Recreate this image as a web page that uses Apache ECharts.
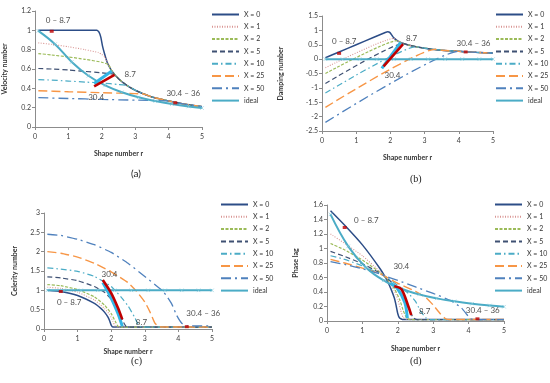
<!DOCTYPE html>
<html><head><meta charset="utf-8">
<script src="https://cdn.jsdelivr.net/npm/echarts/dist/echarts.min.js"></script>
<style>html,body{margin:0;padding:0;background:#fff}#c{width:550px;height:383px}</style>
</head><body><div id="c"></div><script>
// ---------- DATA (shape number r, value) ----------
const seriesNames = ['X = 0','X = 1','X = 2','X = 5','X = 10','X = 25','X = 50','ideal'];

// (a) Velocity number
const velX0  = [[0.1,1],[0.5,1],[1,1],[1.5,1],[1.85,1],[1.92,0.98],[1.97,0.93],[2.02,0.84],[2.08,0.76],[2.15,0.68],[2.2,0.64],[2.3,0.58],[2.5,0.5],[2.75,0.43],[3,0.38],[3.5,0.31],[4,0.27],[4.5,0.235],[5,0.21]];
const velX1  = [[0.1,0.87],[0.5,0.855],[1,0.83],[1.5,0.8],[1.9,0.77],[2,0.75],[2.1,0.72],[2.2,0.645],[2.3,0.58],[2.5,0.5],[2.75,0.43],[3,0.38],[3.5,0.31],[4,0.27],[4.5,0.235],[5,0.21]];
const velX2  = [[0.1,0.76],[0.5,0.745],[1,0.725],[1.5,0.7],[2,0.67],[2.2,0.645],[2.3,0.58],[2.5,0.5],[2.75,0.43],[3,0.38],[3.5,0.31],[4,0.27],[4.5,0.235],[5,0.21]];
const velX5  = [[0.1,0.605],[0.5,0.6],[1,0.59],[1.5,0.575],[2,0.56],[2.3,0.55],[2.38,0.545],[2.5,0.5],[2.75,0.43],[3,0.38],[3.5,0.31],[4,0.27],[4.5,0.235],[5,0.21]];
const velX10 = [[0.1,0.49],[0.5,0.485],[1,0.475],[1.5,0.465],[2,0.455],[2.5,0.44],[2.75,0.43],[3,0.38],[3.5,0.31],[4,0.27],[4.5,0.235],[5,0.21]];
const velX25 = [[0.1,0.375],[1,0.365],[2,0.355],[3,0.345],[3.3,0.338],[3.5,0.31],[4,0.27],[4.5,0.235],[5,0.21]];
const velX50 = [[0.1,0.303],[1,0.295],[2,0.285],[3,0.278],[4,0.27],[4.5,0.235],[5,0.21]];
const velIdeal = [[0.1,0.995],[0.6,0.857],[1.1,0.673],[1.6,0.53],[2.1,0.43],[2.6,0.359],[3.1,0.307],[3.6,0.268],[4.1,0.237],[4.6,0.212],[5,0.196]];
const velRed  = [[1.77,0.42],[2.38,0.54]];
const velCyan = [[1.77,0.45],[2.3,0.58]];
const velDots = [[0.5,0.99],[4.2,0.25]];

// (b) Damping number
const dampX0  = [[0.1,0.05],[0.5,0.25],[1,0.5],[1.5,0.75],[1.85,0.925],[1.92,0.95],[1.98,0.93],[2.05,0.82],[2.1,0.74],[2.2,0.645],[2.3,0.58],[2.5,0.5],[2.75,0.43],[3,0.38],[3.5,0.31],[4,0.27],[4.5,0.235],[5,0.21]];
const dampX1  = [[0.1,-0.3],[2.1,0.72],[2.2,0.645],[2.3,0.58],[2.5,0.5],[2.75,0.43],[3,0.38],[3.5,0.31],[4,0.27],[4.5,0.235],[5,0.21]];
const dampX2  = [[0.1,-0.5],[2.2,0.645],[2.3,0.58],[2.5,0.5],[2.75,0.43],[3,0.38],[3.5,0.31],[4,0.27],[4.5,0.235],[5,0.21]];
const dampX5  = [[0.1,-0.85],[2.38,0.545],[2.5,0.5],[2.75,0.43],[3,0.38],[3.5,0.31],[4,0.27],[4.5,0.235],[5,0.21]];
const dampX10 = [[0.1,-1.18],[2.75,0.43],[3,0.38],[3.5,0.31],[4,0.27],[4.5,0.235],[5,0.21]];
const dampX25 = [[0.1,-1.68],[3.3,0.338],[3.5,0.31],[4,0.27],[4.5,0.235],[5,0.21]];
const dampX50 = [[0.1,-2.2],[4,0.27],[4.5,0.235],[5,0.21]];
const dampIdeal = [[0.1,0],[0.6,0],[1.1,0],[1.6,0],[2.1,0],[2.6,0],[3.1,0],[3.6,0],[4.1,0],[4.6,0],[5,0]];
const dampRed  = [[1.8,-0.25],[2.37,0.52]];
const dampCyan = [[1.75,-0.32],[2.3,0.58]];
const dampDots = [[0.5,0.2],[4.2,0.25]];

// (c) Celerity number
const celX0  = [[0.1,1],[0.5,0.968],[1,0.866],[1.5,0.661],[1.7,0.527],[1.8,0.436],[1.9,0.312],[1.95,0.222],[2,0.1],[2.05,0.05],[3,0.05],[4,0.05],[5,0.05]];
const celX1  = [[0.1,1.08],[0.5,1.05],[1,0.95],[1.5,0.75],[1.8,0.53],[1.95,0.38],[2.05,0.2],[2.12,0.07],[2.2,0.05],[5,0.05]];
const celX2  = [[0.1,1.15],[0.5,1.12],[1,1.02],[1.5,0.83],[1.8,0.62],[2,0.4],[2.12,0.2],[2.2,0.07],[2.3,0.05],[5,0.05]];
const celX5  = [[0.1,1.35],[0.5,1.32],[1,1.25],[1.5,1.1],[1.8,0.95],[2,0.77],[2.2,0.5],[2.35,0.2],[2.45,0.06],[2.55,0.05],[5,0.05]];
const celX10 = [[0.1,1.58],[0.5,1.55],[1,1.49],[1.5,1.36],[2,1.1],[2.3,0.82],[2.5,0.6],[2.7,0.3],[2.8,0.12],[2.9,0.05],[5,0.05]];
const celX25 = [[0.1,2],[0.5,1.96],[1,1.86],[1.5,1.7],[2,1.48],[2.5,1.2],[2.75,0.98],[3,0.7],[3.15,0.45],[3.3,0.15],[3.4,0.07],[3.5,0.05],[5,0.05]];
const celX50 = [[0.1,2.45],[0.5,2.42],[1,2.32],[1.5,2.18],[2,1.98],[2.5,1.7],[3,1.36],[3.3,1.15],[3.55,0.97],[3.8,0.65],[3.95,0.35],[4.1,0.15],[4.25,0.08],[5,0.08]];
const celIdeal = [[0.1,1],[0.6,1],[1.1,1],[1.6,1],[2.1,1],[2.6,1],[3.1,1],[3.6,1],[4.1,1],[4.6,1],[5,1]];
const celRed  = [[1.75,1.27],[2,0.93],[2.2,0.55],[2.33,0.25]];
const celCyan = [[1.75,1.2],[2,0.8],[2.2,0.4],[2.33,0.07]];
const celDots = [[0.5,0.97],[4.25,0.06]];

// (d) Phase lag
const phX0  = [[0.1,1.52],[0.5,1.32],[1,1.05],[1.5,0.72],[1.7,0.555],[1.8,0.45],[1.9,0.32],[1.95,0.22],[2,0.1],[2.05,0.04],[2.15,0.02],[5,0.02]];
const phX1  = [[0.1,1.2],[0.5,1.07],[1,0.9],[1.5,0.68],[1.7,0.57],[1.9,0.42],[2,0.3],[2.08,0.15],[2.15,0.05],[2.25,0.02],[5,0.02]];
const phX2  = [[0.1,1.07],[0.5,0.98],[1,0.84],[1.5,0.67],[1.7,0.58],[1.9,0.45],[2.05,0.3],[2.15,0.15],[2.25,0.04],[2.35,0.02],[5,0.02]];
const phX5  = [[0.1,0.96],[0.5,0.89],[1,0.79],[1.5,0.66],[1.7,0.59],[2,0.45],[2.2,0.3],[2.35,0.12],[2.45,0.04],[2.55,0.02],[5,0.02]];
const phX10 = [[0.1,0.9],[0.5,0.85],[1,0.76],[1.5,0.65],[1.7,0.6],[2,0.49],[2.3,0.38],[2.5,0.27],[2.65,0.13],[2.8,0.04],[2.9,0.02],[5,0.02]];
const phX25 = [[0.1,0.85],[0.5,0.8],[1,0.73],[1.5,0.65],[1.7,0.6],[2,0.52],[2.5,0.41],[2.8,0.32],[3,0.22],[3.2,0.1],[3.35,0.03],[3.5,0.02],[5,0.02]];
const phX50 = [[0.1,0.82],[0.5,0.78],[1,0.72],[1.5,0.65],[1.7,0.61],[2,0.56],[2.5,0.47],[3,0.38],[3.5,0.28],[3.8,0.18],[3.95,0.09],[4.05,0.03],[4.2,0.02],[5,0.02]];
const phIdeal = [[0.1,1.471],[0.6,1.03],[1.1,0.738],[1.6,0.559],[2.1,0.445],[2.6,0.367],[3.1,0.312],[3.6,0.271],[4.1,0.239],[4.6,0.214],[5,0.197]];
const phRed  = [[1.9,0.48],[2.1,0.44],[2.3,0.2],[2.38,0.08]];
const phCyan = [[1.8,0.52],[2,0.44],[2.2,0.25],[2.27,0.04]];
const phDots = [[0.5,1.29],[4.25,0.03]];

// annotation labels: [r, value, text]
const notesA = [[0.69,1.1,'0 – 8.7'],[2.85,0.54,'8.7'],[1.83,0.31,'30.4'],[4.44,0.35,'30.4 – 36']];
const notesB = [[0.65,0.6,'0 – 8.7'],[2.62,0.73,'8.7'],[2.06,-0.55,'30.4'],[4.43,0.56,'30.4 – 36']];
const notesC = [[0.75,0.7,'0 – 8.7'],[2.9,0.18,'8.7'],[1.95,1.4,'30.4'],[4.74,0.4,'30.4 – 36']];
const notesD = [[1.11,1.39,'0 – 8.7'],[2.76,0.13,'8.7'],[2.1,0.75,'30.4'],[4.4,0.14,'30.4 – 36']];

const yTitles = ['Velocity number','Damping number','Celerity number','Phase lag'];
const panelTags = ['(a)','(b)','(c)','(d)'];

// ---------- STYLE ----------
const FONT = 'Lato, "Open Sans", sans-serif';
const lineStyles = [
  {color:'#2C4D87', width:1.5, type:'solid'},
  {color:'#D99694', width:1.1, type:[1,1.5]},
  {color:'#9BBB59', width:1.2, type:[3,1.5]},
  {color:'#3F5173', width:1.2, type:[5,3]},
  {color:'#4BACC6', width:1.2, type:[6,3,1.5,3]},
  {color:'#F79646', width:1.4, type:[9,4]},
  {color:'#4F81BD', width:1.3, type:[10,4,2,4]},
  {color:'#4BACC6', width:2, type:'solid'}
];

const panels = [
  {curves:[velX0,velX1,velX2,velX5,velX10,velX25,velX50,velIdeal], red:velRed, cyan:velCyan, dots:velDots, notes:notesA,
   grid:{left:35, top:11, width:167, height:116}, y:{min:0,max:1.2,interval:0.2}, xGap:23, yGap:26.5, legend:{left:211, top:11}},
  {curves:[dampX0,dampX1,dampX2,dampX5,dampX10,dampX25,dampX50,dampIdeal], red:dampRed, cyan:dampCyan, dots:dampDots, notes:notesB,
   grid:{left:322, top:16, width:171, height:115}, y:{min:-2.5,max:1.5,interval:0.5}, xGap:23, yGap:37.5, legend:{left:495, top:11}},
  {curves:[celX0,celX1,celX2,celX5,celX10,celX25,celX50,celIdeal], red:celRed, cyan:celCyan, dots:celDots, notes:notesC,
   grid:{left:44, top:213, width:168, height:116}, y:{min:0,max:3,interval:0.5}, xGap:19, yGap:26, legend:{left:220, top:201}},
  {curves:[phX0,phX1,phX2,phX5,phX10,phX25,phX50,phIdeal], red:phRed, cyan:phCyan, dots:phDots, notes:notesD,
   grid:{left:327, top:205, width:177, height:116}, y:{min:0,max:1.6,interval:0.2}, xGap:24, yGap:28, legend:{left:494, top:201}}
];

const axisCommon = {
  axisLine:{onZero:false, lineStyle:{color:'#8C8C8C', width:1}},
  axisTick:{show:true, length:3, lineStyle:{color:'#8C8C8C'}},
  splitLine:{show:false},
  axisLabel:{fontSize:7, color:'#404040', fontFamily:FONT, margin:4},
  nameTextStyle:{fontSize:7, fontWeight:'bold', color:'#333', fontFamily:FONT},
  nameLocation:'middle'
};

const grid = [], xAxis = [], yAxis = [], legend = [], series = [];
panels.forEach((p, i) => {
  grid.push(Object.assign({containLabel:false, outerBoundsMode:'none'}, p.grid));
  xAxis.push(Object.assign({}, axisCommon, {type:'value', gridIndex:i, min:0, max:5, interval:1,
    name:'Shape number r', nameGap:p.xGap, axisLabel:Object.assign({}, axisCommon.axisLabel, {margin:6})}));
  yAxis.push(Object.assign({}, axisCommon, {type:'value', gridIndex:i, min:p.y.min, max:p.y.max, interval:p.y.interval,
    name:yTitles[i], nameGap:p.yGap}));
  legend.push({orient:'vertical', left:p.legend.left, top:p.legend.top, itemWidth:27, itemHeight:8, itemGap:5.3,
    padding:0, data:seriesNames, selectedMode:false, itemStyle:{opacity:0},
    textStyle:{fontSize:7, color:'#333', fontFamily:FONT}});
  p.curves.forEach((d, k) => {
    const ls = lineStyles[k];
    series.push({type:'line', name:seriesNames[k], xAxisIndex:i, yAxisIndex:i, data:d, symbol:'none',
      smooth:k===7 ? 0.4 : 0.15, lineStyle:{color:ls.color, width:ls.width, type:ls.type}, itemStyle:{color:ls.color},
      z: k===7 ? 3 : 2, silent:true});
  });
  // markers on the ideal line
  series.push({type:'scatter', name:'ideal marks', xAxisIndex:i, yAxisIndex:i, data:p.curves[7],
    symbol:'path://M0,0L10,10M10,0L0,10', symbolSize:3.5,
    itemStyle:{color:'transparent', borderColor:'#7CC7DA', borderWidth:0.8}, z:4, silent:true});
  series.push({type:'line', name:'obs cyan', xAxisIndex:i, yAxisIndex:i, data:p.cyan, symbol:'none', smooth:0.3,
    lineStyle:{color:'#33B5E5', width:3}, z:5, silent:true});
  series.push({type:'line', name:'obs red', xAxisIndex:i, yAxisIndex:i, data:p.red, symbol:'none', smooth:0.3,
    lineStyle:{color:'#C00000', width:2.6}, z:6, silent:true});
  series.push({type:'scatter', name:'obs dots', xAxisIndex:i, yAxisIndex:i, data:p.dots, symbol:'rect', symbolSize:[4,3],
    itemStyle:{color:'#C00000'}, z:7, silent:true});
  series.push({type:'scatter', name:'notes', xAxisIndex:i, yAxisIndex:i,
    data:p.notes.map(n => ({value:[n[0], n[1]], name:n[2]})), symbolSize:1, itemStyle:{color:'transparent'},
    label:{show:true, position:'inside', formatter:'{b}', fontSize:8, color:'#222', fontFamily:FONT}, z:8, silent:true});
});

const tagPos = [[138,175,FONT],[417,180,'"Liberation Serif", serif'],[138,362,'"Liberation Serif", serif'],[417,362,'"Liberation Serif", serif']];
const graphic = panelTags.map((t, i) => ({type:'text', left:tagPos[i][0]-7, top:tagPos[i][1]-6,
  style:{text:t, fontSize:10, fill:'#222', fontFamily:tagPos[i][2]}}));

const chart = echarts.init(document.getElementById('c'), null, {renderer:'canvas'});
chart.setOption({animation:false, backgroundColor:'#fff', grid, xAxis, yAxis, legend, series, graphic});
</script></body></html>
